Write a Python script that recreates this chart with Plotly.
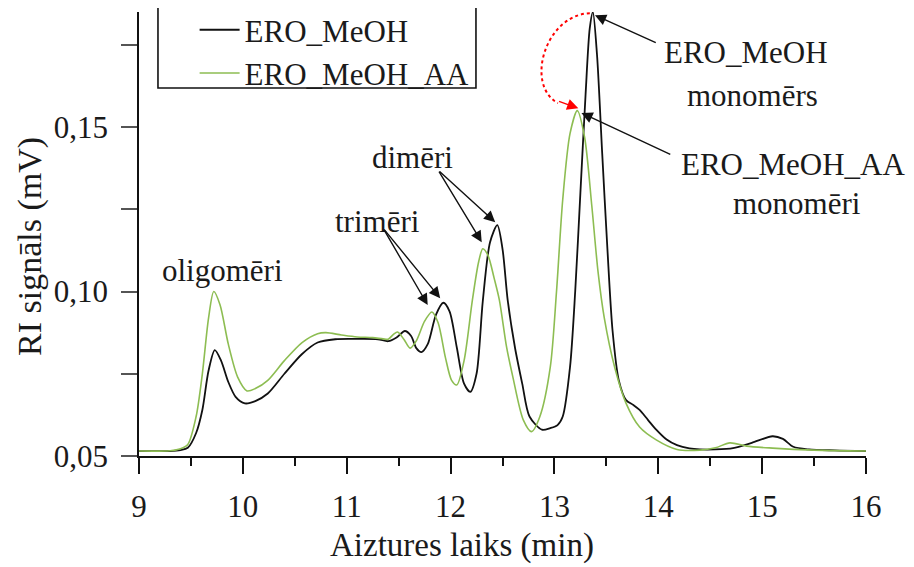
import plotly.graph_objects as go

# ---- data ----
t_meoh = [9.0, 9.3, 9.4, 9.47, 9.55, 9.61, 9.67, 9.73, 9.79, 9.86, 9.93, 10.02, 10.12, 10.24, 10.4,
          10.57, 10.72, 10.89, 11.1, 11.3, 11.4, 11.48, 11.56, 11.62, 11.67, 11.72, 11.78, 11.86,
          11.93, 11.99, 12.06, 12.13, 12.19, 12.25, 12.31, 12.38, 12.45, 12.5, 12.55, 12.62, 12.69,
          12.76, 12.88, 12.96, 13.03, 13.08, 13.15, 13.2, 13.25, 13.3, 13.34, 13.37, 13.41, 13.46,
          13.51, 13.56, 13.62, 13.69, 13.76, 13.82, 13.9, 13.98, 14.08, 14.18, 14.3, 14.4,
          14.55, 14.72, 14.9, 15.1, 15.2, 15.3, 15.45, 15.7, 16.0]
v_meoh = [0.0515, 0.0515, 0.0518, 0.0525, 0.057, 0.064, 0.076, 0.0822, 0.079, 0.0725, 0.068, 0.066,
          0.0667, 0.069, 0.075, 0.081, 0.0845, 0.0855, 0.0856, 0.0855, 0.0849, 0.086, 0.088, 0.0865,
          0.0828, 0.0816, 0.084, 0.093, 0.0966, 0.094, 0.083, 0.072, 0.0695, 0.075, 0.097, 0.115,
          0.1202, 0.113, 0.0974, 0.083, 0.072, 0.062, 0.058, 0.0585, 0.0594, 0.062, 0.077, 0.1,
          0.13, 0.16, 0.18, 0.185, 0.172, 0.142, 0.113, 0.088, 0.073, 0.067, 0.0655,
          0.064, 0.061, 0.058, 0.055, 0.0533, 0.0523, 0.052, 0.052, 0.0524, 0.054, 0.056, 0.0552,
          0.0528, 0.052, 0.0517, 0.0515]

t_meoh_aa = [9.0, 9.3, 9.4, 9.47, 9.55, 9.61, 9.67, 9.72, 9.78, 9.86, 9.95, 10.04, 10.12, 10.24, 10.4,
             10.57, 10.72, 10.8, 10.95, 11.1, 11.25, 11.35, 11.4, 11.45, 11.49, 11.55, 11.61, 11.67,
             11.75, 11.82, 11.88, 11.95, 12.01, 12.06, 12.13, 12.21, 12.27, 12.31, 12.36, 12.42,
             12.47, 12.54, 12.6, 12.7, 12.78, 12.86, 12.96, 13.02, 13.08, 13.15, 13.22, 13.29, 13.36,
             13.42, 13.48, 13.58, 13.69, 13.82, 13.98, 14.18, 14.4, 14.55, 14.69, 14.85, 15.1, 15.5, 16.0]
v_meoh_aa = [0.0515, 0.0516, 0.0522, 0.0535, 0.062, 0.075, 0.092, 0.100, 0.096, 0.084, 0.074, 0.0698,
             0.0705, 0.073, 0.079, 0.0845, 0.0872, 0.0875, 0.0868, 0.0862, 0.086, 0.0856, 0.0855,
             0.087, 0.0877, 0.0855, 0.0828, 0.085, 0.091, 0.0938, 0.0905, 0.080, 0.073, 0.0716,
             0.079, 0.0974, 0.109, 0.113, 0.111, 0.104, 0.0974, 0.083, 0.074, 0.061, 0.0574, 0.062,
             0.077, 0.1, 0.128, 0.148, 0.155, 0.147, 0.126, 0.106, 0.092, 0.077, 0.066, 0.0588,
             0.0549, 0.052, 0.0518, 0.0525, 0.054, 0.053, 0.0524, 0.0518, 0.0515]

series_names = ["ERO_MeOH", "ERO_MeOH_AA"]
x_ticks = [9, 10, 11, 12, 13, 14, 15, 16]
y_ticks = [0.05, 0.10, 0.15]
y_tick_labels = ["0,05", "0,10", "0,15"]
x_title = "Aiztures laiks (min)"
y_title = "RI signāls (mV)"

FONT = "Liberation Serif, Times New Roman, serif"
BLACK = "#111111"
GREEN = "#8dbd52"
TXT = "#1a1a1a"

fig = go.Figure()
fig.add_trace(go.Scatter(x=t_meoh, y=v_meoh, mode="lines", name=series_names[0],
                         line=dict(color=BLACK, width=1.8, shape="spline", smoothing=0.8)))
fig.add_trace(go.Scatter(x=t_meoh_aa, y=v_meoh_aa, mode="lines", name=series_names[1],
                         line=dict(color=GREEN, width=1.6, shape="spline", smoothing=0.8)))

ann_font = dict(family=FONT, size=31, color=TXT)
annotations = []
# text labels
annotations.append(dict(x=9.80, y=0.1063, text="oligomēri", showarrow=False, font=ann_font))
annotations.append(dict(x=11.30, y=0.1212, text="trimēri", showarrow=False, font=ann_font))
annotations.append(dict(x=11.63, y=0.1407, text="dimēri", showarrow=False, font=ann_font))
annotations.append(dict(x=14.84, y=0.1728, text="ERO_MeOH", showarrow=False, font=ann_font))
annotations.append(dict(x=14.91, y=0.1597, text="monomērs", showarrow=False, font=ann_font))
annotations.append(dict(x=15.30, y=0.1385, text="ERO_MeOH_AA", showarrow=False, font=ann_font))
annotations.append(dict(x=15.34, y=0.1269, text="monomēri", showarrow=False, font=ann_font))
# axis titles (placed off-centre, as in the reference)
annotations.append(dict(xref="paper", yref="paper", x=0.444, y=-0.2027, xanchor="center",
                        yanchor="middle", text=x_title, showarrow=False,
                        font=dict(family=FONT, size=33, color=TXT)))
annotations.append(dict(xref="paper", yref="paper", x=-0.1499, y=0.4707, xanchor="center",
                        yanchor="middle", text=y_title, showarrow=False, textangle=-90,
                        font=dict(family=FONT, size=34, color=TXT)))

def arrow(hx, hy, tx, ty, color=BLACK):
    return dict(x=hx, y=hy, ax=tx, ay=ty, xref="x", yref="y", axref="x", ayref="y",
                text="", showarrow=True, arrowhead=2, arrowsize=1.6, arrowwidth=1.4,
                arrowcolor=color, standoff=0, startstandoff=0)

annotations += [
    arrow(11.78, 0.0959, 11.35, 0.1193),
    arrow(11.90, 0.0980, 11.35, 0.1193),
    arrow(12.30, 0.1150, 11.88, 0.1369),
    arrow(12.43, 0.1211, 11.88, 0.1369),
    arrow(13.39, 0.1840, 13.99, 0.1755),
    arrow(13.26, 0.1543, 14.13, 0.1415),
    arrow(13.23, 0.1557, 13.03, 0.1580, color="#ff0000"),
]

shapes = [
    # red dotted curved connector between the two monomer peaks
    dict(type="path", xref="x", yref="y",
         path="M 13.341,0.18465 C 12.908,0.18404 12.715,0.16277 13.033,0.1573",
         line=dict(color="#ff0000", width=2, dash="dot")),
    # legend frame (top edge lies outside the page, as in the reference)
    dict(type="rect", xref="paper", yref="paper", x0=0.0261, x1=0.4635, y0=0.8288, y1=1.08,
         line=dict(color=BLACK, width=1.6), fillcolor="rgba(0,0,0,0)"),
]

tick_font = dict(family=FONT, size=31, color=TXT)

fig.update_layout(
    width=914, height=567,
    margin=dict(l=131, r=56, t=4, b=119, autoexpand=False),
    paper_bgcolor="white", plot_bgcolor="white",
    showlegend=True,
    legend=dict(x=0.0765, y=1.02, xanchor="left", yanchor="top", bgcolor="rgba(0,0,0,0)",
                borderwidth=0, font=dict(family=FONT, size=31, color=TXT),
                tracegroupgap=0, itemwidth=40),
    annotations=annotations,
    shapes=shapes,
    xaxis=dict(range=[9, 16], tickvals=x_ticks, ticks="outside", ticklen=16, tickwidth=1.5,
               tickcolor=BLACK, showline=True, linecolor=BLACK, linewidth=1.6, showgrid=False,
               zeroline=False, tickfont=tick_font, ticklabelstandoff=6,
               minor=dict(dtick=0.5, tick0=9, ticks="outside", ticklen=8, tickwidth=1.5, tickcolor=BLACK)),
    yaxis=dict(range=[0.05, 0.185], tickvals=y_ticks, ticktext=y_tick_labels, ticks="outside",
               ticklen=16, tickwidth=1.5, tickcolor="#555555", showline=True, linecolor=BLACK,
               linewidth=1.6, showgrid=False, zeroline=False, tickfont=tick_font, ticklabelstandoff=7,
               minor=dict(tickvals=[0.075, 0.125, 0.175], ticks="outside", ticklen=16, tickwidth=1.5,
                          tickcolor="#555555")),
)

fig.write_html("out.html")
